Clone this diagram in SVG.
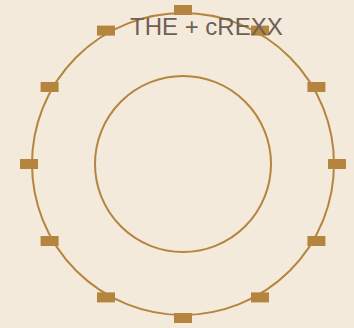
<svg xmlns="http://www.w3.org/2000/svg" width="354" height="328" viewBox="0 0 354 328">
<style>
.ring{fill:none;stroke:#b58540;stroke-width:2}
.port{fill:#b58540}
.title{font-family:"Liberation Sans",Arial,sans-serif;font-size:24px;fill:#6e5f52}
</style>
<rect width="354" height="328" fill="#f3eadb"/>
<g id="outer"><circle class="ring" cx="183" cy="164" r="151"/></g>
<g id="inner"><circle class="ring" cx="183" cy="164" r="88"/></g>
<g id="ports">
<rect class="port" x="174" y="5" width="18" height="10"/>
<rect class="port" x="251" y="25.6" width="18" height="10"/>
<rect class="port" x="307.4" y="82" width="18" height="10"/>
<rect class="port" x="328" y="159" width="18" height="10"/>
<rect class="port" x="307.4" y="236" width="18" height="10"/>
<rect class="port" x="251" y="292.4" width="18" height="10"/>
<rect class="port" x="174" y="313" width="18" height="10"/>
<rect class="port" x="97" y="292.4" width="18" height="10"/>
<rect class="port" x="40.6" y="236" width="18" height="10"/>
<rect class="port" x="20" y="159" width="18" height="10"/>
<rect class="port" x="40.6" y="82" width="18" height="10"/>
<rect class="port" x="97" y="25.6" width="18" height="10"/>
</g>
<g id="label"><text class="title" x="130" y="35">THE + cREXX</text></g>
</svg>
